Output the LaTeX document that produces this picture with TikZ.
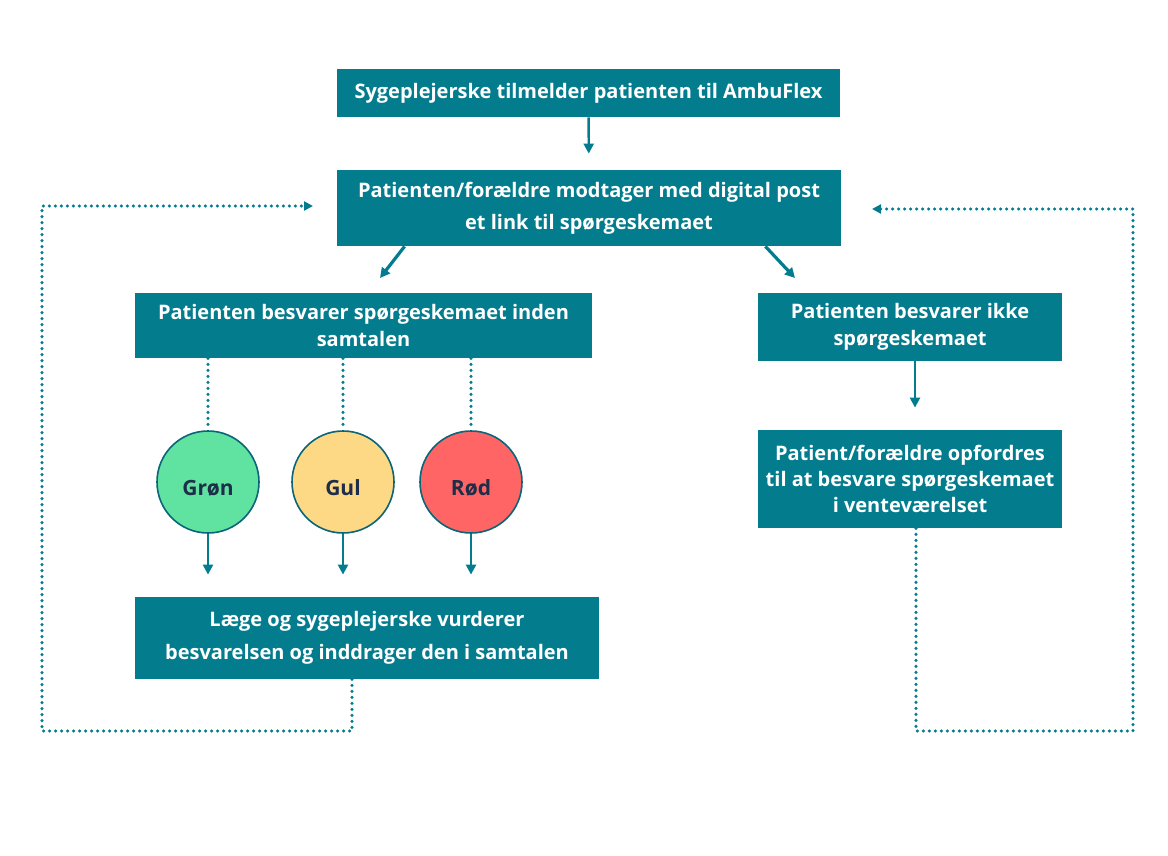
\documentclass[tikz,border=0pt]{standalone}
\usepackage{fontspec}
\setmainfont{Open Sans}
\usetikzlibrary{arrows.meta}
\definecolor{teal}{HTML}{037C8E}
\definecolor{navy}{HTML}{1E2E48}
\definecolor{groen}{HTML}{60E2A0}
\definecolor{gul}{HTML}{FDD885}
\definecolor{roed}{HTML}{FF6565}
\tikzset{
  box/.style={fill=teal, text=white, inner sep=0pt, align=center,
    font=\bfseries\fontsize{10}{13.5}\selectfont},
  lamp/.style={circle, draw=teal!70!navy, line width=0.8pt, minimum size=51pt,
    inner sep=0pt, text=navy, text height=13pt, text depth=0pt,
    font=\bfseries\fontsize{10.5}{12}\selectfont},
  arr/.style={draw=teal, line width=1.2pt, -{Triangle[width=5pt,length=5pt]}},
  dots/.style={draw=teal, line width=1.7pt, line cap=round, dash pattern=on 0pt off 3pt},
}
\begin{document}
\begin{tikzpicture}[x=0.5pt, y=-0.5pt]
\useasboundingbox (0,0) rectangle (1168,856);

\node[box, minimum width=251.5pt, minimum height=24pt] (tilmeld) at (588.5,93)
  {Sygeplejerske tilmelder patienten til AmbuFlex};
\node[box, minimum width=252pt, minimum height=38pt] (link) at (589,208)
  {Patienten/forældre modtager med digital post\\[2.5pt] et link til spørgeskemaet};
\node[box, minimum width=228.5pt, minimum height=32.5pt] (besvar) at (363.5,325.5)
  {Patienten besvarer spørgeskemaet inden\\ samtalen};
\node[box, minimum width=152pt, minimum height=34pt] (ikke) at (910,327)
  {Patienten besvarer ikke\\ spørgeskemaet};
\node[box, minimum width=152pt, minimum height=49pt] (opfordr) at (910,479)
  {Patient/forældre opfordres\\[-0.5pt] til at besvare spørgeskemaet\\[-0.5pt] i venteværelset};
\node[box, minimum width=232pt, minimum height=41pt] (vurder) at (367,638)
  {Læge og sygeplejerske vurderer\\[3pt] besvarelsen og inddrager den i samtalen};

% the three colours
\node[lamp, fill=groen] (gron) at (208,482) {Grøn};
\node[lamp, fill=gul] (gul) at (343,482) {Gul};
\node[lamp, fill=roed] (rod) at (471,482) {Rød};

\coordinate (vl) at (380,278);
\coordinate (hr) at (795,278);

\draw[arr, shorten >=8pt] (tilmeld) -- (link);
\draw[arr, line width=1.6pt] ([xshift=34pt]link.south west) -- (vl);
\draw[arr, line width=1.6pt] ([xshift=-38pt]link.south east) -- (hr);
\draw[arr, shorten >=11pt] ([xshift=2.5pt]ikke.south) -- ([xshift=2.5pt]opfordr.north);

\foreach \c in {gron,gul}
  \draw[dots] (besvar.south -| \c) -- (\c.north);
\draw[dots, shorten >=2.5pt] (besvar.south -| rod) -- (rod.north);
\foreach \c in {gron,gul,rod}
  \draw[arr, shorten >=11pt] (\c.south) -- (\c |- vurder.north);

% loops back to the link
\coordinate (lb) at (42,731);
\coordinate (lt) at (42,206);
\coordinate (lh) at (313,206);
\draw[dots, -{Triangle[width=4.5pt,length=4.5pt]}]
  ([xshift=-7.5pt]vurder.south) |- (lb) -- (lt) -- (lh);
\coordinate (rb) at (1133,731);
\coordinate (rt) at (1133,209);
\coordinate (rh) at (872,209);
\draw[dots, -{Triangle[width=4.5pt,length=4.5pt]}]
  ([xshift=3pt]opfordr.south) |- (rb) -- (rt) -- (rh);
\end{tikzpicture}
\end{document}
